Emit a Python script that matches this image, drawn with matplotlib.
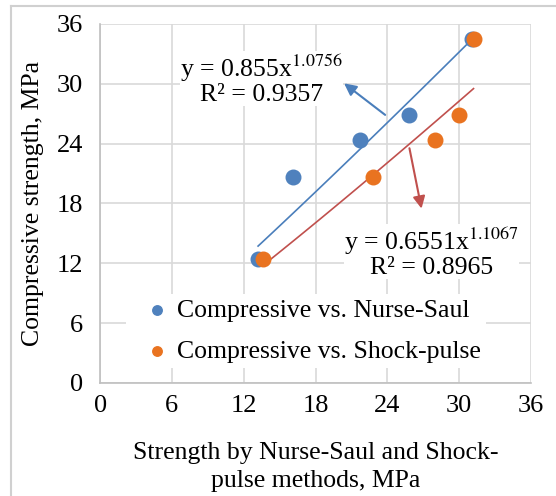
import matplotlib
matplotlib.use("Agg")
import matplotlib.pyplot as plt
from matplotlib.lines import Line2D
import numpy as np

plt.rcParams['font.family'] = ['Liberation Serif', 'DejaVu Serif']
plt.rcParams['mathtext.fontset'] = 'stix'

# Datos
compresiva = [12.4, 20.6, 24.4, 26.9, 34.5]
nurse_saul = [13.2, 16.1, 21.7, 25.8, 31.1]
shock_pulse = [13.6, 22.8, 28.0, 30.0, 31.2]

# Ajustes potenciales y = a*x^b
a_ns, b_ns, r2_ns = 0.855, 1.0756, 0.9357
a_sp, b_sp, r2_sp = 0.6551, 1.1067, 0.8965

ticks = [0, 6, 12, 18, 24, 30, 36]

azul = '#4f81bd'
naranja = '#e97320'
linea_azul = '#4a7ebb'
linea_roja = '#c0504d'

fig = plt.figure(figsize=(5.56, 4.96), dpi=100)
ax = fig.add_axes([0.18, 0.228, 0.775, 0.724])

# Marco exterior (izquierda y arriba)
fig.add_artist(Line2D([0.02, 0.02], [0, 0.988], color='#d0d0d0', lw=1.5, transform=fig.transFigure))
fig.add_artist(Line2D([0.02, 1], [0.988, 0.988], color='#d0d0d0', lw=1.5, transform=fig.transFigure))

ax.scatter(nurse_saul, compresiva, s=110, color=azul, zorder=3, label='Compressive vs. Nurse-Saul')
ax.scatter(shock_pulse, compresiva, s=110, color=naranja, zorder=3, label='Compressive vs. Shock-pulse')

# Lineas de tendencia
x1 = np.linspace(min(nurse_saul), max(nurse_saul), 100)
ax.plot(x1, a_ns * x1 ** b_ns, color=linea_azul, lw=1.2, zorder=2)
x2 = np.linspace(min(shock_pulse), max(shock_pulse), 100)
ax.plot(x2, a_sp * x2 ** b_sp, color=linea_roja, lw=1.2, zorder=2)

# Flechas hacia las ecuaciones
ax.annotate('', xy=(20.2, 30.2), xytext=(24.0, 26.7),
            arrowprops=dict(arrowstyle='-|>', color=linea_azul, lw=1.5, mutation_scale=18))
ax.annotate('', xy=(26.9, 17.2), xytext=(25.8, 23.8),
            arrowprops=dict(arrowstyle='-|>', color=linea_roja, lw=1.5, mutation_scale=18))

ax.text(13.5, 30.4, 'y = %sx$^{%s}$\nR² = %s' % (a_ns, b_ns, r2_ns), fontsize=18.5,
        ha='center', va='center', linespacing=1.0,
        bbox=dict(facecolor='white', edgecolor='none', pad=0))
ax.text(27.7, 13.1, 'y = %sx$^{%s}$\nR² = %s' % (a_sp, b_sp, r2_sp), fontsize=18.5,
        ha='center', va='center', linespacing=1.0,
        bbox=dict(facecolor='white', edgecolor='none', pad=0))

ax.set_xlim(0, 36)
ax.set_ylim(0, 36)
ax.set_xticks(ticks)
ax.set_yticks(ticks)
ax.tick_params(labelsize=19, length=0)
ax.tick_params(axis='x', pad=9)
ax.tick_params(axis='y', pad=12)
ax.grid(True, color='#d9d9d9', lw=1.2)
ax.set_axisbelow(True)
for s in ['top', 'right']:
    ax.spines[s].set_visible(False)
for s in ['left', 'bottom']:
    ax.spines[s].set_color('#bfbfbf')
    ax.spines[s].set_linewidth(1.2)

ax.set_xlabel('Strength by Nurse-Saul and Shock-\npulse methods, MPa', fontsize=18.5,
              labelpad=18, linespacing=1.3)
ax.set_ylabel('Compressive strength, MPa', fontsize=18.5, labelpad=9)

leg = ax.legend(loc='lower left', bbox_to_anchor=(0.03, 0.005), fontsize=18.5, frameon=True,
                handletextpad=-0.2, borderpad=0.2, labelspacing=0.72, markerscale=0.65)
leg.get_frame().set_edgecolor('none')
leg.get_frame().set_facecolor('white')
leg.get_frame().set_alpha(1)
leg.get_frame().set_boxstyle('square', pad=0)

fig.savefig('out.png', dpi=100)
